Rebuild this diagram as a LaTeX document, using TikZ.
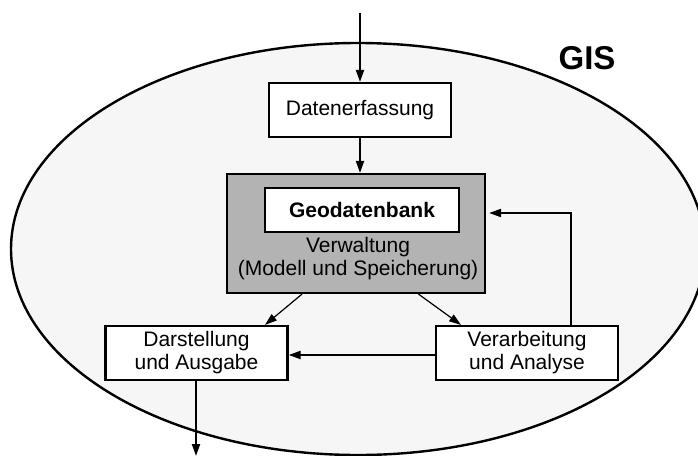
\documentclass[tikz,border=0pt]{standalone}
\usepackage{fontspec}
\setmainfont{Liberation Sans}
\usetikzlibrary{arrows.meta}
\definecolor{ellfill}{RGB}{246,246,246}
\definecolor{dbgray}{RGB}{179,179,179}
\tikzset{
  box/.style={draw=black, line width=2.2pt, fill=white, minimum width=182pt, minimum height=54pt,
    inner sep=0pt, align=center, font=\fontsize{21}{23}\selectfont},
  arr/.style={line width=2pt, -{Triangle[length=12pt,width=8pt]}},
  thinarr/.style={line width=1.2pt, -{Triangle[length=12pt,width=8pt]}},
}
\begin{document}
\begin{tikzpicture}[x=1pt,y=-1pt]
\clip (0,0) rectangle (698,455);
\fill[white] (0,0) rectangle (698,455);
% GIS ellipse
\draw[line width=2.4pt, fill=ellfill] (358,249) ellipse [x radius=347, y radius=206];
\node[font=\fontsize{33}{36}\selectfont\bfseries] (gis) at (587,58) {GIS};
% nodes
\node[box] (daten) at (360,110) {Datenerfassung};
\node[draw=black, line width=2.2pt, fill=dbgray, minimum width=258pt, minimum height=119pt, inner sep=0pt] (verw) at (356,233.5) {};
\node[box, minimum width=194pt, minimum height=44pt, font=\fontsize{21}{23}\selectfont\bfseries] (geo) at (362,210) {Geodatenbank};
\node[align=center, font=\fontsize{21}{23}\selectfont, inner sep=0pt] (verwtext) at (358,259) {Verwaltung\\(Modell und Speicherung)};
\node[box] (darst) at (196.5,353) {Darstellung\\und Ausgabe};
\node[box] (verarb) at (527,353) {Verarbeitung\\und Analyse};
\coordinate (in) at (360,13);
\coordinate (out) at (196,456);
% connectors
\draw[arr] (in) -- (daten.north);
\draw[arr] (daten.south) -- (daten.south |- verw.north);
\draw[thinarr] ([xshift=-54pt]verw.south) -- ([xshift=68.5pt]darst.north);
\draw[thinarr] ([xshift=62.5pt]verw.south) -- ([xshift=-66pt]verarb.north);
\draw[arr, shorten >=3pt] ([xshift=44pt]verarb.north) |- ([yshift=20.5pt]verw.east);
\draw[arr] ([yshift=-2pt]verarb.west) -- ([yshift=-2pt]verarb.west -| darst.east);
\draw[arr] ([xshift=-0.5pt]darst.south) -- (out);
\end{tikzpicture}
\end{document}
